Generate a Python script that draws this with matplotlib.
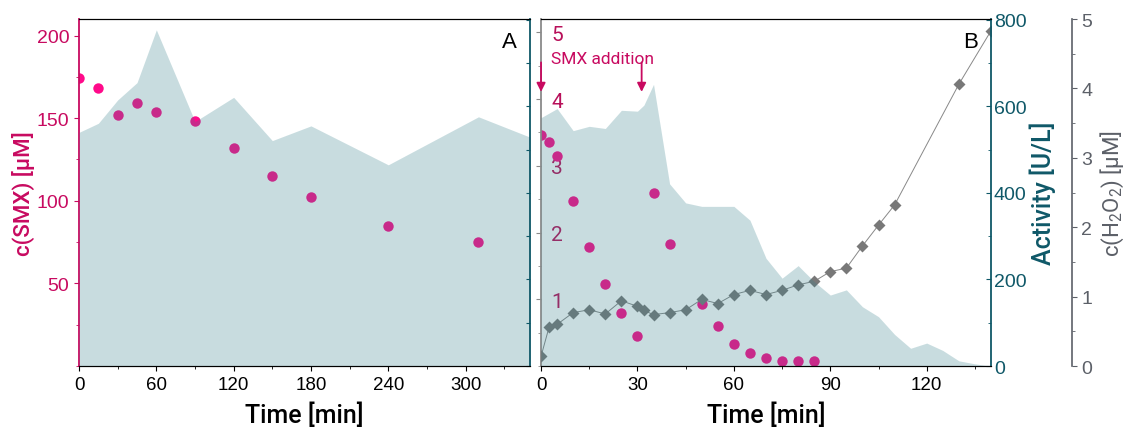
import numpy as np
import matplotlib
matplotlib.use("Agg")
import matplotlib.pyplot as plt
from matplotlib.ticker import MultipleLocator, FixedLocator

plt.rcParams['font.family'] = ['Liberation Sans', 'DejaVu Sans']
plt.rcParams['mathtext.default'] = 'regular'

#===# DATA #===#

# panel A : long experiment
tA_smx = [0, 15, 30, 45, 60, 90, 120, 150, 180, 240, 310]
smxA = [174, 168, 152, 159, 154, 148, 132, 115, 102, 85, 75]
tA_act = [0, 15, 30, 45, 60, 90, 120, 150, 180, 240, 310, 350]
actA = [540, 561, 615, 655, 777, 565, 621, 521, 555, 465, 576, 529]

# panel B : repeated SMX addition
tB_smx = [0, 2.5, 5, 10, 15, 20, 25, 30, 35, 40, 50, 55, 60, 65, 70, 75, 80, 85]
smxB = [3.46, 3.36, 3.15, 2.47, 1.79, 1.23, 0.79, 0.45, 2.60, 1.83,
        0.93, 0.60, 0.33, 0.19, 0.12, 0.07, 0.07, 0.07]

tB_h2o2 = [0, 2.5, 5, 10, 15, 20, 25, 30, 32, 35, 40, 45, 50, 55, 60, 65, 70,
           75, 80, 85, 90, 95, 100, 105, 110, 130, 140]
h2o2B = [0.14, 0.56, 0.60, 0.77, 0.81, 0.75, 0.94, 0.86, 0.80, 0.74, 0.77,
         0.81, 0.96, 0.90, 1.03, 1.09, 1.03, 1.09, 1.17, 1.22, 1.36, 1.41,
         1.73, 2.03, 2.32, 4.06, 4.83]

tB_act = [0, 5, 10, 15, 20, 25, 30, 32, 35, 40, 45, 50, 55, 60, 65, 70, 75,
          80, 85, 90, 95, 100, 105, 110, 115, 120, 125, 130, 135, 140]
actB = [574, 595, 544, 554, 549, 591, 589, 603, 651, 421, 377, 369, 369, 369,
        337, 249, 203, 232, 195, 164, 176, 137, 114, 73, 41, 53, 36, 12, 5, 0]

addition_times = [0, 31.3]

#===# STYLE #===#
magenta = '#c80a60'
pink = '#ff0a8a'
teal = '#0f5868'
fillc = '#37818c'
grey = '#5c6068'
diam = '#787878'
lab_font = ['Roboto', 'DejaVu Sans']

fig = plt.figure(figsize=(11.26, 4.35), dpi=100)

#==# PANEL A #==#
axA = fig.add_axes([0.0702, 0.1563, 0.4005, 0.7977])
axA.plot(tA_smx, smxA, 'o', color=pink, ms=7.5, mec='none')
axA.set_xlim(0, 350)
axA.set_ylim(0, 210)
axA.xaxis.set_major_locator(MultipleLocator(60))
axA.xaxis.set_minor_locator(MultipleLocator(30))
axA.yaxis.set_major_locator(FixedLocator([50, 100, 150, 200]))
axA.yaxis.set_minor_locator(MultipleLocator(25))
axA.tick_params(axis='y', colors=magenta, labelsize=14, direction='out')
axA.tick_params(axis='y', which='minor', colors=magenta)
axA.tick_params(axis='x', labelsize=13.5, direction='out')
axA.spines['left'].set_color(magenta)
axA.spines['left'].set_linewidth(1.3)
axA.spines['right'].set_visible(False)
axA.set_xlabel('Time [min]', fontsize=18, family=lab_font, weight='medium', labelpad=6)
axA.set_ylabel('c(SMX) [µM]', fontsize=16, family=lab_font, weight='medium', color=magenta, labelpad=1)
axA.text(0.955, 0.935, 'A', transform=axA.transAxes, fontsize=16, ha='center', va='center')

axA2 = axA.twinx()
axA2.fill_between(tA_act, 0, actA, color=fillc, alpha=0.27, lw=0)
axA2.set_ylim(0, 802)
axA2.yaxis.set_major_locator(MultipleLocator(100))
axA2.tick_params(axis='y', direction='in', colors=teal, labelright=False, length=3)
axA2.spines['right'].set_color(teal)
axA2.spines['right'].set_linewidth(1.3)
axA2.spines['left'].set_visible(False)

#==# PANEL B #==#
axB = fig.add_axes([0.4805, 0.1563, 0.3996, 0.7977])
axB.plot(tB_smx, smxB, 'o', color=pink, ms=7.5, mec='none')
axB.set_xlim(0, 140)
axB.set_ylim(0, 5.2)
axB.xaxis.set_major_locator(MultipleLocator(30))
axB.xaxis.set_minor_locator(MultipleLocator(15))
axB.yaxis.set_major_locator(FixedLocator([1, 2, 3, 4, 5]))
axB.yaxis.set_minor_locator(MultipleLocator(0.5))
axB.tick_params(axis='y', which='both', color='#8a8a8a', direction='out')
axB.tick_params(axis='y', labelcolor='#b8105a', labelsize=15, pad=-11)
for lbl in axB.get_yticklabels():
    lbl.set_horizontalalignment('left')
    lbl.set_family(lab_font)
axB.tick_params(axis='x', labelsize=13.5, direction='out')
axB.spines['left'].set_color('#8a8a8a')
axB.spines['left'].set_linewidth(1.3)
axB.spines['right'].set_visible(False)
axB.set_xlabel('Time [min]', fontsize=18, family=lab_font, weight='medium', labelpad=6)
axB.text(0.955, 0.935, 'B', transform=axB.transAxes, fontsize=16, ha='center', va='center')

# SMX addition arrows
for t in addition_times:
    axB.annotate('', xy=(t, 0.79), xytext=(t, 0.875),
                 xycoords=('data', 'axes fraction'), textcoords=('data', 'axes fraction'),
                 arrowprops=dict(arrowstyle='-|>', color=magenta, lw=1.3, mutation_scale=13,
                                 shrinkA=0, shrinkB=0), annotation_clip=False)
axB.text(3.0, 0.885, 'SMX addition', transform=axB.get_xaxis_transform(),
         fontsize=12.5, color=magenta, family=lab_font, va='center', ha='left')

# H2O2 axis (drawn below the activity fill)
axH = axB.twinx()
axH.plot(tB_h2o2, h2o2B, '-', color='#888888', lw=0.7, zorder=1)
axH.plot(tB_h2o2, h2o2B, 'D', color=diam, ms=6.5, mec='none', zorder=2)
axH.set_ylim(0, 5)
axH.spines['right'].set_position(('outward', 58))
axH.spines['right'].set_color(grey)
axH.spines['right'].set_linewidth(1.2)
axH.spines['left'].set_visible(False)
axH.spines['top'].set_visible(False)
axH.spines['bottom'].set_visible(False)
axH.yaxis.set_major_locator(MultipleLocator(1))
axH.yaxis.set_minor_locator(MultipleLocator(0.5))
axH.tick_params(axis='y', which='both', colors=grey, labelsize=14, direction='out')
axH.set_ylabel(r'c(H$_2$O$_2$) [µM]', fontsize=16, family=lab_font, color=grey, labelpad=5)

# activity axis
axAct = axB.twinx()
axAct.fill_between(tB_act, 0, actB, color=fillc, alpha=0.27, lw=0)
axAct.set_ylim(0, 802)
axAct.yaxis.set_major_locator(MultipleLocator(200))
axAct.yaxis.set_minor_locator(MultipleLocator(100))
axAct.tick_params(axis='y', which='both', direction='in', colors=teal, labelsize=14, pad=2)
axAct.spines['right'].set_color(teal)
axAct.spines['right'].set_linewidth(1.3)
axAct.spines['left'].set_visible(False)
axAct.set_ylabel('Activity [U/L]', fontsize=18, family=lab_font, weight='medium', color=teal, labelpad=2)

fig.savefig('out.png', dpi=100)
